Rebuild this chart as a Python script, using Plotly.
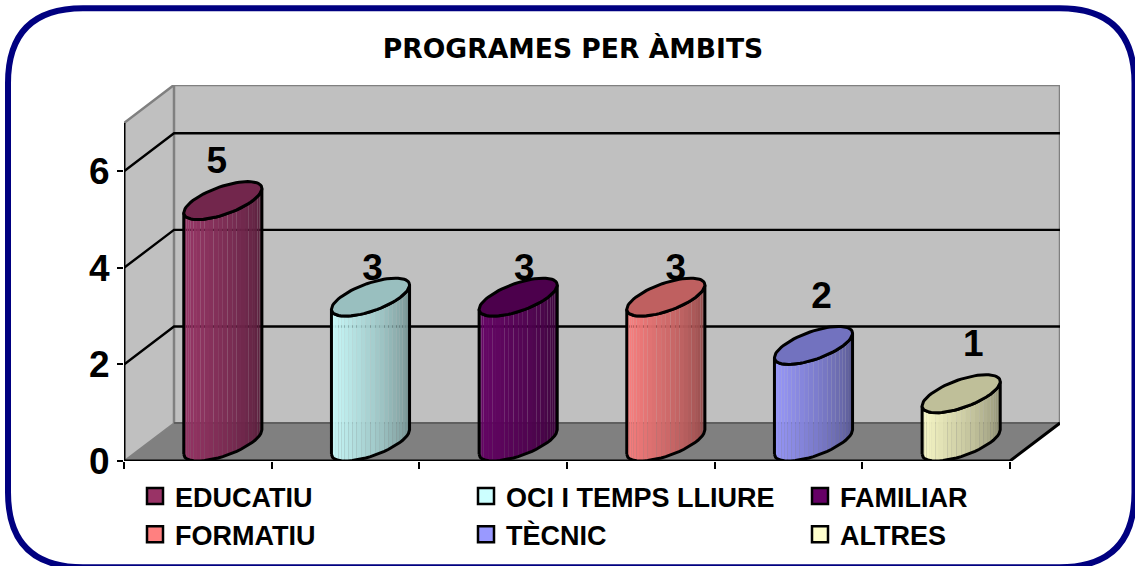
import math
import plotly.graph_objects as go

# ---------- data ----------
categories = ["EDUCATIU", "OCI I TEMPS LLIURE", "FAMILIAR", "FORMATIU", "TÈCNIC", "ALTRES"]
values = [5, 3, 3, 3, 2, 1]
colors = ["#993366", "#CCFFFF", "#660066", "#FF8080", "#9999FF", "#FFFFCC"]
y_ticks = [0, 2, 4, 6]

# ---------- style / geometry ----------
W, H = 1135, 566
PX_L, PX_FRONT_R, PX_FRONT_T, PX_B = 124, 1010, 122.7, 460.7
PX_DEPTH_X, PX_DEPTH_Y = 50, 38
Y_MAX = 7
X_MAX = len(categories)
PX_PER_X = (PX_FRONT_R - PX_L) / X_MAX
PX_PER_Y = (PX_B - PX_FRONT_T) / Y_MAX
DX = PX_DEPTH_X / PX_PER_X
DY = PX_DEPTH_Y / PX_PER_Y
PX_R = PX_FRONT_R + PX_DEPTH_X
PX_T = PX_FRONT_T - PX_DEPTH_Y
RADIUS_U = 30 / PX_PER_X
N_STRIPS = 26
FONT = "Liberation Sans, Arial, sans-serif"
# hand placement of the value labels, in pixels from the cylinder's cap centre
LABEL_DX = [-6, 2, 6, 10, 8, 12]
LABEL_DY = [37, 26, 26, 26, 47, 47]
# the legend reads in three columns of two rows
LEGEND_COLUMN_PX = [135, 466, 800]


def shade(hex_color, f, alpha=1.0):
    r, g, b = (int(hex_color[i:i + 2], 16) for i in (1, 3, 5))
    return f"rgba({int(r * f)},{int(g * f)},{int(b * f)},{alpha})"


def rim(i, level, t):
    cx = i + 0.5 + 0.5 * DX
    cy = level + 0.5 * DY
    return (cx + RADIUS_U * math.cos(t) + 0.5 * DX * math.sin(t),
            cy + 0.5 * DY * math.sin(t))


def poly(xs, ys, fill, line_color=None, line_width=0):
    return go.Scatter(x=xs, y=ys, mode="lines", fill="toself" if fill else None,
                      fillcolor=fill, hoverinfo="skip", showlegend=False, cliponaxis=False,
                      line=dict(color=line_color or "rgba(0,0,0,0)", width=line_width))


fig = go.Figure()

# walls and floor
fig.add_trace(poly([0, DX, DX, 0, 0], [0, DY, Y_MAX + DY, Y_MAX, 0], "#C0C0C0"))
fig.add_trace(poly([DX, X_MAX + DX, X_MAX + DX, DX, DX],
                   [DY, DY, Y_MAX + DY, Y_MAX + DY, DY], "#C0C0C0"))
fig.add_trace(poly([0, X_MAX, X_MAX + DX, DX, 0], [0, 0, DY, DY, 0], "#808080"))
# wall edges
fig.add_trace(poly([0, DX, X_MAX + DX, X_MAX + DX], [Y_MAX, Y_MAX + DY, Y_MAX + DY, DY],
                   None, "#808080", 2.5))
fig.add_trace(poly([DX, DX], [DY, Y_MAX + DY], None, "#808080", 2.5))
fig.add_trace(poly([0, DX], [0, DY], None, "#808080", 1.5))
fig.add_trace(poly([DX, X_MAX + DX], [DY, DY], None, "#5F5F5F", 2))
# gridlines
for v in y_ticks[1:]:
    fig.add_trace(poly([0, DX, X_MAX + DX], [v, v + DY, v + DY], None, "#000000", 2.4))
# front axis lines
fig.add_trace(poly([0, 0], [0, Y_MAX], None, "#000000", 3))
fig.add_trace(poly([0, X_MAX, X_MAX + DX], [0, 0, DY], None, "#000000", 3))

# value labels sit behind the cylinders
fig.add_trace(go.Scatter(
    x=[i + 0.5 + 0.5 * DX + LABEL_DX[i] / PX_PER_X for i in range(len(values))],
    y=[values[i] + 0.5 * DY + LABEL_DY[i] / PX_PER_Y for i in range(len(values))],
    mode="text", text=[str(v) for v in values], textposition="middle center",
    textfont=dict(family=FONT, size=37, color="#000000", weight="bold"),
    hoverinfo="skip", showlegend=False, cliponaxis=False))

# cylinders
t_left = math.pi + math.atan2(0.5 * DX * PX_PER_X, RADIUS_U * PX_PER_X)
for i, (v, col) in enumerate(zip(values, colors)):
    ts = [t_left + math.pi * k / N_STRIPS for k in range(N_STRIPS + 1)]
    for k in range(N_STRIPS):
        a, b = ts[k], ts[k + 1]
        x0, y0 = rim(i, 0, a)
        x1, y1 = rim(i, 0, b)
        x2, y2 = rim(i, v, b)
        x3, y3 = rim(i, v, a)
        f = 1.0 - 0.48 * (k / (N_STRIPS - 1)) ** 1.4
        fig.add_trace(poly([x0, x1, x2, x3, x0], [y0, y1, y2, y3, y0], shade(col, f, 0.97)))
    arc_b = [rim(i, 0, t) for t in ts]
    arc_t = [rim(i, v, t) for t in reversed(ts)]
    pts = arc_b + arc_t + [arc_b[0]]
    fig.add_trace(poly([p[0] for p in pts], [p[1] for p in pts], None, "#000000", 3))
    cap = [rim(i, v, 2 * math.pi * k / 72) for k in range(73)]
    fig.add_trace(poly([p[0] for p in cap], [p[1] for p in cap], shade(col, 0.75), "#000000", 3))

# legend entries: column = position in the row
n_cols = len(LEGEND_COLUMN_PX)
for k, (name, col) in enumerate(zip(categories, colors)):
    c = k % n_cols
    fig.add_trace(go.Scatter(x=[None], y=[None], mode="markers", name=name, hoverinfo="skip",
                             legend="legend" if c == 0 else f"legend{c + 1}",
                             marker=dict(symbol="square", size=16, color=col,
                                         line=dict(color="#000000", width=2.5))))


def px_x(p):
    return (p - PX_L) / (PX_R - PX_L)


def px_y(p):
    return (PX_B - p) / (PX_B - PX_T)


# rounded frame
x0, x1, y0, y1, r = 8, 1134.5, 8, 567, 75
frame = (f"M {px_x(x0 + r)} {px_y(y0)} L {px_x(x1 - r)} {px_y(y0)} "
         f"Q {px_x(x1)} {px_y(y0)} {px_x(x1)} {px_y(y0 + r)} L {px_x(x1)} {px_y(y1 - r)} "
         f"Q {px_x(x1)} {px_y(y1)} {px_x(x1 - r)} {px_y(y1)} L {px_x(x0 + r)} {px_y(y1)} "
         f"Q {px_x(x0)} {px_y(y1)} {px_x(x0)} {px_y(y1 - r)} L {px_x(x0)} {px_y(y0 + r)} "
         f"Q {px_x(x0)} {px_y(y0)} {px_x(x0 + r)} {px_y(y0)} Z")

legend_axes = {}
for c, lx in enumerate(LEGEND_COLUMN_PX):
    legend_axes["legend" if c == 0 else f"legend{c + 1}"] = dict(
        orientation="v", traceorder="normal", itemsizing="trace",
        xref="container", yref="container", x=lx / W, xanchor="left", y=1 - 472 / H, yanchor="top",
        bgcolor="rgba(0,0,0,0)",
        font=dict(family=FONT, size=27, color="#000000", weight="bold"))

fig.update_layout(
    width=W, height=H, autosize=False,
    margin=dict(l=PX_L, r=W - PX_R, t=PX_T, b=H - PX_B, pad=0, autoexpand=False),
    paper_bgcolor="#FFFFFF", plot_bgcolor="rgba(0,0,0,0)",
    title=dict(text="<b>PROGRAMES PER ÀMBITS</b>", x=573 / W, xanchor="center", xref="container",
               y=1 - 49 / H, yanchor="middle", yref="container",
               font=dict(family="DejaVu Sans, Verdana, sans-serif", size=26.6, color="#000000")),
    xaxis=dict(range=[0, X_MAX + DX], tickmode="array", tickvals=list(range(X_MAX + 1)),
               ticktext=[""] * (X_MAX + 1),
               showgrid=False, zeroline=False, showline=False,
               ticks="outside", ticklen=7, tickwidth=2.4, tickcolor="#000000", layer="above traces", fixedrange=True),
    yaxis=dict(range=[0, Y_MAX + DY], tickmode="array", tickvals=y_ticks, ticktext=[str(v) for v in y_ticks],
               showgrid=False, zeroline=False, showline=False,
               ticks="outside", ticklen=6, tickwidth=2.4, tickcolor="#000000", layer="above traces", fixedrange=True,
               tickfont=dict(family=FONT, size=37, color="#000000", weight="bold")),
    shapes=[dict(type="path", xref="paper", yref="paper", path=frame, layer="below",
                 line=dict(color="#000080", width=6), fillcolor="#FFFFFF")],
    showlegend=True,
    **legend_axes,
)

fig.write_html("out.html", post_script="document.body.style.margin='0';document.documentElement.style.overflow='hidden';",
               config={"displayModeBar": False})
